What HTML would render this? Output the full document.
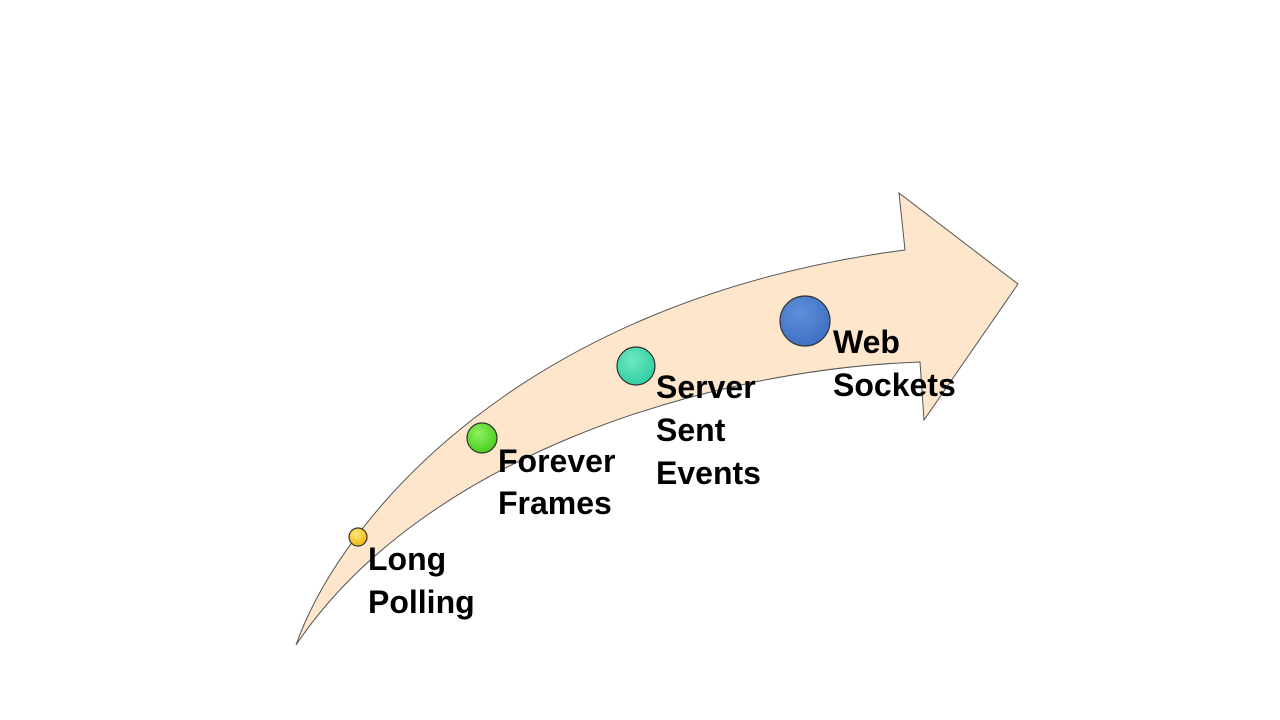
<!DOCTYPE html>
<html><head><meta charset="utf-8"><style>
html,body{margin:0;padding:0;background:#fff;}
svg{display:block}
text{font-family:"Liberation Sans",sans-serif;font-weight:bold;font-size:32px;fill:#000}
</style></head><body>
<svg width="1280" height="720" viewBox="0 0 1280 720">
<defs>
<radialGradient id="g1" cx="0.4" cy="0.35" r="0.7"><stop offset="0" stop-color="#ffe680"/><stop offset="1" stop-color="#f0b400"/></radialGradient>
<radialGradient id="g2" cx="0.4" cy="0.35" r="0.7"><stop offset="0" stop-color="#8ef060"/><stop offset="1" stop-color="#44cc1c"/></radialGradient>
<radialGradient id="g3" cx="0.4" cy="0.35" r="0.7"><stop offset="0" stop-color="#6fe8c4"/><stop offset="1" stop-color="#2ecc9c"/></radialGradient>
<radialGradient id="g4" cx="0.4" cy="0.35" r="0.7"><stop offset="0" stop-color="#5e8fd8"/><stop offset="1" stop-color="#3f6fc4"/></radialGradient>
</defs>
<path d="M296,645 C340,520 520,300 905,250 L899,193 L1018,284 L924,420 L920,362 C700,370 420,460 296,645 Z" fill="#fde6cc" stroke="#555" stroke-width="1"/>
<circle cx="358" cy="537" r="9" fill="url(#g1)" stroke="#333" stroke-width="1.2"/>
<circle cx="482" cy="438" r="15" fill="url(#g2)" stroke="#333" stroke-width="1.2"/>
<circle cx="636" cy="366" r="19" fill="url(#g3)" stroke="#333" stroke-width="1.2"/>
<circle cx="805" cy="321" r="25" fill="url(#g4)" stroke="#333" stroke-width="1.2"/>
<text x="368" y="570">Long</text>
<text x="368" y="613">Polling</text>
<text x="498" y="472">Forever</text>
<text x="498" y="514">Frames</text>
<text x="656" y="398">Server</text>
<text x="656" y="441">Sent</text>
<text x="656" y="484">Events</text>
<text x="833" y="353">Web</text>
<text x="833" y="396">Sockets</text>
</svg>
</body></html>
